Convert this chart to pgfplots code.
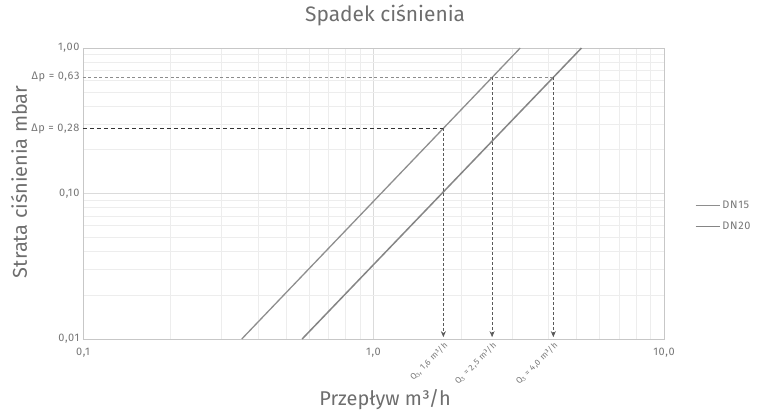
\documentclass[border=0pt]{standalone}
\usepackage{pgfplots}
\pgfplotsset{compat=1.18}
\usetikzlibrary{arrows.meta}
\usepackage{fontspec}
\setmainfont{Fira Sans}
\newfontfamily\spc[LetterSpace=6]{Fira Sans}
\newfontfamily\spb[LetterSpace=6]{Fira Sans}
\definecolor{txt}{HTML}{767676}
\definecolor{ttl}{HTML}{6E6E6E}
\definecolor{lineA}{HTML}{8E8E8E}
\definecolor{lineB}{HTML}{858585}
\begin{document}
\begin{tikzpicture}
\begin{loglogaxis}[
  scale only axis, width=581bp, height=291bp,
  at={(0,0)}, anchor=south west, clip=false,
  xmin=0.1, xmax=10, ymin=0.01, ymax=1,
  xtick={0.1,1,10}, xticklabels={{0,1},{1,0},{10,0}},
  ytick={0.01,0.1,1}, yticklabels={{0,01},{0,10},{1,00}},
  extra y ticks={0.28,0.63},
  extra y tick labels={{Δp = 0,28},{Δp = 0,63}},
  extra y tick style={grid=none, tick label style={font=\spb\fontsize{7.3}{8}\selectfont, color=txt}},
  grid=both,
  major grid style={color=black!14, line width=0.6bp},
  minor grid style={color=black!7, line width=0.6bp},
  axis line style={color=black!22},
  tick style={draw=none},
  x tick label style={yshift=-6bp, font=\spc\fontsize{11}{13}\selectfont, color=txt},
  y tick label style={font=\spc\fontsize{11}{13}\selectfont, color=txt},
  title={Spadek ciśnienia},
  title style={font=\fontsize{21}{24}\selectfont, color=ttl, at={(axis description cs:0.52,1)}, anchor=base, yshift=21bp},
  xlabel={Przepływ m³/h},
  xlabel style={font=\fontsize{20}{23}\selectfont, color=ttl, at={(axis description cs:0.52,0)}, anchor=base, yshift=-66bp},
  ylabel={Strata ciśnienia mbar},
  ylabel style={font=\fontsize{20}{23}\selectfont, color=ttl, at={(axis description cs:-0.0964,0.54)}, anchor=base, rotate=0},
  legend style={at={(1.053,0.423)}, anchor=west, draw=none, fill=none, inner sep=0pt,
    font=\spc\fontsize{11}{13}\selectfont, text=txt, row sep=8bp, legend cell align=left},
  legend image code/.code={\draw[#1] (0bp,0bp) -- (24bp,0bp);},
]
\addplot[lineA, line width=1.3bp] coordinates {(0.352,0.01) (3.20,1)};
\addlegendentry{DN15}
\addplot[lineB, line width=1.5bp] coordinates {(0.568,0.01) (5.20,1)};
\addlegendentry{DN20}
% annotation lines
\addplot[black!45, line width=0.7bp, dash pattern=on 3bp off 2.5bp, forget plot] coordinates {(0.1,0.63) (4.16,0.63)};
\addplot[black!80, line width=0.8bp, dash pattern=on 4bp off 3bp, forget plot] coordinates {(0.1,0.28) (1.74,0.28)};
\addplot[black!65, line width=0.7bp, dash pattern=on 3bp off 2bp, -{Stealth[length=6bp,width=5bp]}, forget plot] coordinates {(1.74,0.28) (1.74,0.0103)};
\addplot[black!65, line width=0.7bp, dash pattern=on 3bp off 2bp, -{Stealth[length=6bp,width=5bp]}, forget plot] coordinates {(2.56,0.63) (2.56,0.0103)};
\addplot[black!65, line width=0.7bp, dash pattern=on 3bp off 2bp, -{Stealth[length=6bp,width=5bp]}, forget plot] coordinates {(4.16,0.63) (4.16,0.0103)};
\node[rotate=45, anchor=east, font=\spb\fontsize{8.5}{9}\selectfont, text=txt, inner sep=0pt] at ([xshift=3bp,yshift=-5bp]axis cs:1.74,0.01) {Q\textsubscript{3}, 1,6 m³/h};
\node[rotate=45, anchor=east, font=\spb\fontsize{8.5}{9}\selectfont, text=txt, inner sep=0pt] at ([xshift=3bp,yshift=-5bp]axis cs:2.56,0.01) {Q\textsubscript{3} = 2,5 m³/h};
\node[rotate=45, anchor=east, font=\spb\fontsize{8.5}{9}\selectfont, text=txt, inner sep=0pt] at ([xshift=3bp,yshift=-5bp]axis cs:4.16,0.01) {Q\textsubscript{3} = 4,0 m³/h};
\end{loglogaxis}
\pgfresetboundingbox
\path[use as bounding box] (-83bp,-73bp) rectangle (682bp,339bp);
\end{tikzpicture}
\end{document}
